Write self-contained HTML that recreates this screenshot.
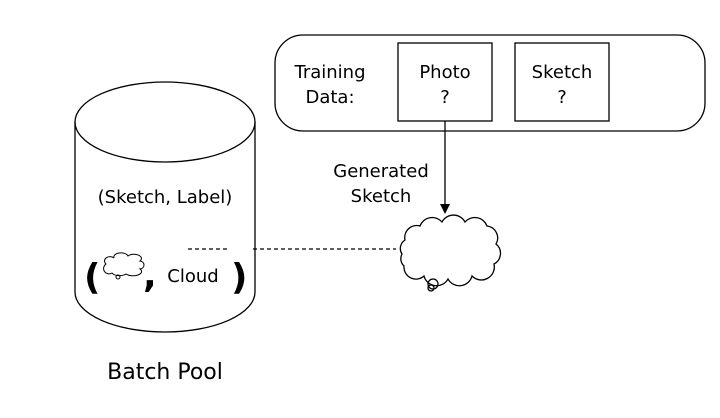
<!DOCTYPE html>
<html><head><style>
body{margin:0;background:#fff;}
svg{display:block;}
text{font-family:"DejaVu Sans","Liberation Sans",sans-serif;fill:#000;}
</style></head><body>
<svg width="720" height="418" viewBox="0 0 720 418" xmlns="http://www.w3.org/2000/svg">
<g fill="none" stroke="#000" stroke-width="1.3">
<ellipse cx="165" cy="122" rx="90" ry="40" fill="#fff"/>
<path d="M75 122 V292 A90 40 0 0 0 255 292 V122"/>
<rect x="275" y="35" width="430" height="96" rx="28"/>
<rect x="398" y="43" width="94" height="78"/>
<rect x="515" y="43" width="94" height="78"/>
<line x1="445" y1="121" x2="445" y2="205"/>
<line x1="188" y1="249" x2="230" y2="249" stroke-dasharray="4,3"/>
<line x1="253" y1="249" x2="396" y2="249" stroke-dasharray="4,3"/>
<path d="M405 240 A12 12 0 0 1 420 226 A13 13 0 0 1 442 222 A13 13 0 0 1 465 222 A13 13 0 0 1 487 226 A12 12 0 0 1 496 244 A12 12 0 0 1 494 264 A13 13 0 0 1 472 276 A13 13 0 0 1 448 279 A13 13 0 0 1 424 276 A12 12 0 0 1 404 266 A10 10 0 0 1 402 254 A10 10 0 0 1 405 240 Z"/>
<circle cx="433" cy="284" r="5"/>
<circle cx="431" cy="288" r="3"/>
<path d="M106 264 A5 4 0 0 1 114 258 A7 4 0 0 1 128 256 A7 4 0 0 1 140 261 A4 4 0 0 1 140 269 A8 4 0 0 1 126 274 A8 4 0 0 1 112 273 A4 4 0 0 1 106 264 Z" stroke-width="1"/>
<circle cx="118" cy="277" r="2" stroke-width="1"/>
</g>
<polygon points="440,204 450,204 445,214" fill="#000"/>
<g font-size="18">
<text x="330" y="78" text-anchor="middle">Training</text>
<text x="330" y="103" text-anchor="middle">Data:</text>
<text x="445" y="78" text-anchor="middle">Photo</text>
<text x="445" y="103" text-anchor="middle">?</text>
<text x="562" y="78" text-anchor="middle">Sketch</text>
<text x="562" y="103" text-anchor="middle">?</text>
<text x="381" y="177" text-anchor="middle">Generated</text>
<text x="381" y="202" text-anchor="middle">Sketch</text>
<text x="165" y="203" text-anchor="middle">(Sketch, Label)</text>
<text x="193" y="282" text-anchor="middle">Cloud</text>
</g>
<text x="84" y="289" font-size="36" font-weight="bold">(</text>
<text x="143" y="287" font-size="36" font-weight="bold">,</text>
<text x="231" y="289" font-size="36" font-weight="bold">)</text>
<text x="165" y="379" font-size="22" text-anchor="middle">Batch Pool</text>
</svg>
</body></html>
